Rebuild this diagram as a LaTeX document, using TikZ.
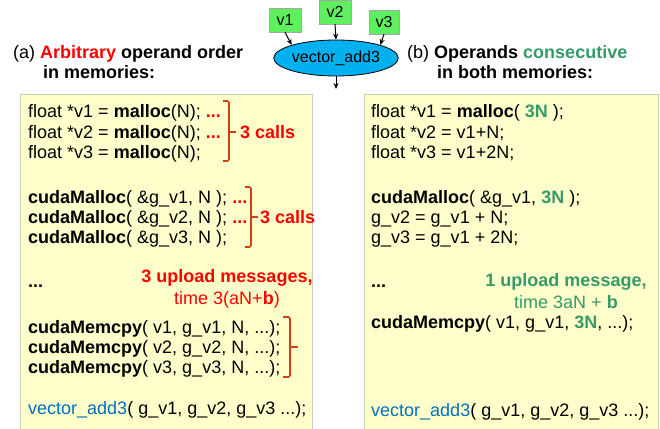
\documentclass[tikz,border=0pt]{standalone}
\usepackage{fontspec}
\setmainfont{Liberation Sans}
\usetikzlibrary{arrows.meta,shapes.geometric}

\definecolor{codebg}{RGB}{255,255,204}
\definecolor{codeframe}{RGB}{205,205,185}
\definecolor{bracketred}{RGB}{208,64,24}
\definecolor{consgreen}{RGB}{55,155,105}
\definecolor{callblue}{RGB}{0,112,192}
\definecolor{vecgreen}{RGB}{95,240,95}
\definecolor{opblue}{RGB}{0,176,240}

\newcommand{\rdots}{\textcolor{red}{\textbf{...}}}
\newcommand{\gN}{\textcolor{consgreen}{\textbf{3N}}}

\begin{document}
\begin{tikzpicture}[
    x=1pt, y=-1pt,
    >={Stealth[length=6pt,width=5pt]},
    codeline/.style={
        anchor=base west,
        inner sep=0pt,
        font=\fontsize{18}{22}\selectfont
    },
    note/.style={
        inner sep=0pt,
        align=center,
        font=\fontsize{18}{22}\selectfont
    },
    vecbox/.style={
        rectangle,
        draw=gray!70,
        fill=vecgreen,
        minimum width=32pt,
        minimum height=24pt,
        inner sep=0pt,
        font=\fontsize{16}{18}\selectfont
    },
    opnode/.style={
        ellipse,
        draw=black,
        line width=0.8pt,
        fill=opblue,
        minimum width=120pt,
        minimum height=36pt,
        inner sep=0pt,
        font=\fontsize{16}{18}\selectfont
    },
    brace/.style={
        draw=bracketred,
        line width=1.6pt,
        rounded corners=1.5pt
    },
    flow/.style={
        ->,
        line width=1pt
    }
]
\useasboundingbox (0,0) rectangle (660,428);

% ---- code panels ----
\draw[codeframe, fill=codebg] (20,94) rectangle (312,434);
\draw[codeframe, fill=codebg] (364,94) rectangle (658,434);

% ---- kernel graph (top centre) ----
\node[opnode] (op) at (336,58) {vector\_add3};
\node[vecbox] (v1) at (285,20) {v1};
\node[vecbox] (v2) at (335,12) {v2};
\node[vecbox, minimum width=30pt] (v3) at (384,22) {v3};
\coordinate (out) at (336,89);

\draw[flow] (v1.south) -- (op.north west);
\draw[flow] (v2.south) -- (op.north);
\draw[flow] (v3.south) -- (op.north east);
\draw[flow] (op.south) -- (out);

% ---- titles ----
\node[codeline] (titleA) at (13,58.5) {(a) \textcolor{red}{\textbf{Arbitrary}} \textbf{operand order}};
\node[codeline] (titleA2) at (43,78.5) {\textbf{in memories:}};
\node[codeline] (titleB) at (407,58.5) {(b) \textbf{Operands \textcolor{consgreen}{consecutive}}};
\node[codeline] (titleB2) at (437,78.5) {\textbf{in both memories:}};

% ---- (a) arbitrary order ----
\node[codeline] (a1) at (28,117.5) {float *v1 = \textbf{malloc}(N); \rdots};
\node[codeline] (a2) at (28,138) {float *v2 = \textbf{malloc}(N); \rdots};
\node[codeline] (a3) at (28,158.5) {float *v3 = \textbf{malloc}(N);};

\node[codeline] (a4) at (28,203.5) {\textbf{cudaMalloc}( \&g\_v1, N ); \rdots};
\node[codeline] (a5) at (28,223.5) {\textbf{cudaMalloc}( \&g\_v2, N ); \rdots};
\node[codeline] (a6) at (28,243.5) {\textbf{cudaMalloc}( \&g\_v3, N );};

\node[codeline] (a7) at (28,287) {\textbf{...}};
\node[note, text=red] (upA) at (227,289) {\textbf{3 upload messages,}\\time 3(aN+\textbf{b})};

\node[codeline] (a8) at (28,333.5) {\textbf{cudaMemcpy}( v1, g\_v1, N, ...);};
\node[codeline] (a9) at (28,353.5) {\textbf{cudaMemcpy}( v2, g\_v2, N, ...);};
\node[codeline] (a10) at (28,373.5) {\textbf{cudaMemcpy}( v3, g\_v3, N, ...);};

\node[codeline] (a11) at (28,414.5) {\textcolor{callblue}{vector\_add3}( g\_v1, g\_v2, g\_v3 ...);};

% brackets
\draw[brace] (223,101) -- (229,101) -- (229,161) -- (223,161);
\draw[brace] (229,132) -- (236,132);
\node[codeline, text=red] (callsA) at (240,138.5) {\textbf{3 calls}};

\draw[brace] (245,187) -- (251,187) -- (251,247) -- (245,247);
\draw[brace] (251,217) -- (258,217);
\node[codeline, text=red] (callsB) at (260,223.5) {\textbf{3 calls}};

\draw[brace] (283,317) -- (290,317) -- (290,377) -- (283,377);
\draw[brace] (290,347) -- (298,347);

% ---- (b) consecutive operands ----
\node[codeline] (b1) at (371,117.5) {float *v1 = \textbf{malloc}( \gN\ );};
\node[codeline] (b2) at (371,138) {float *v2 = v1+N;};
\node[codeline] (b3) at (371,158.5) {float *v3 = v1+2N;};

\node[codeline] (b4) at (371,203.5) {\textbf{cudaMalloc}( \&g\_v1, \gN\ );};
\node[codeline] (b5) at (371,223.5) {g\_v2 = g\_v1 + N;};
\node[codeline] (b6) at (371,243.5) {g\_v3 = g\_v1 + 2N;};

\node[codeline] (b7) at (371,287) {\textbf{...}};
\node[note, text=consgreen] (upB) at (566,291) {\textbf{1 upload message,}\\time 3aN + \textbf{b}};

\node[codeline] (b8) at (371,328.5) {\textbf{cudaMemcpy}( v1, g\_v1, \gN, ...);};

\node[codeline] (b11) at (371,416.5) {\textcolor{callblue}{vector\_add3}( g\_v1, g\_v2, g\_v3 ...);};

\end{tikzpicture}
\end{document}
